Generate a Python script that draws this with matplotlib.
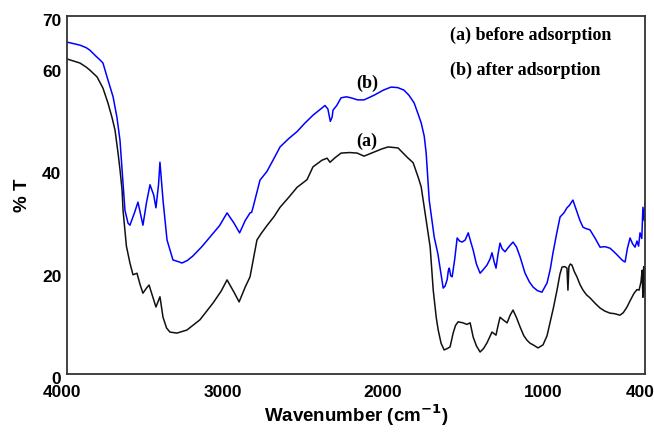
import matplotlib
matplotlib.use("Agg")
import matplotlib.pyplot as plt
import matplotlib.transforms as mtransforms

# (b) after adsorption - blue
wn_b = [4000, 3960, 3919, 3880, 3857, 3838, 3815, 3794, 3776, 3745, 3713, 3689, 3670, 3657,
        3639, 3620, 3608, 3580, 3558, 3540, 3527, 3505, 3483, 3460, 3446, 3430, 3421, 3402,
        3377, 3340, 3300, 3284, 3250, 3215, 3160, 3109, 3050, 3003, 2960, 2925, 2890, 2860,
        2850, 2841, 2798, 2755, 2710, 2673, 2620, 2567, 2520, 2468, 2420, 2393, 2375, 2360,
        2349, 2343, 2320, 2293, 2260, 2231, 2190, 2150, 2088, 2030, 1982, 1940, 1901, 1870,
        1838, 1815, 1794, 1775, 1763, 1744, 1713, 1690, 1670, 1657, 1645, 1632, 1625, 1619,
        1610, 1601, 1585, 1570, 1555, 1539, 1520, 1501, 1485, 1470, 1450, 1427, 1405, 1384,
        1365, 1353, 1340, 1328, 1315, 1303, 1290, 1272, 1245, 1222, 1200, 1178, 1160, 1147,
        1120, 1097, 1070, 1042, 1010, 990, 973, 950, 929, 905, 886, 870, 860, 849, 836, 824,
        805, 786, 765, 743, 710, 680, 650, 618, 590, 556, 540, 524, 510, 493, 478, 462, 450,
        440, 431, 420, 413, 405, 400]
tb = [64.9, 64.6, 64.3, 63.8, 63.3, 62.7, 62.0, 61.4, 60.8, 57.5, 54.2, 50.2, 45.7, 40.0,
      32.0, 29.5, 29.1, 31.5, 33.6, 31.0, 29.1, 33.5, 37.0, 35.0, 32.5, 37.0, 41.4, 34.0,
      26.2, 22.3, 21.9, 21.7, 22.2, 23.1, 24.9, 26.8, 29.0, 31.5, 29.5, 27.6, 30.0, 31.5,
      31.6, 32.6, 37.9, 39.6, 42.2, 44.4, 46.0, 47.4, 49.0, 50.6, 51.8, 52.5, 51.8, 49.4,
      50.2, 51.6, 52.5, 54.0, 54.2, 54.0, 53.6, 53.6, 54.5, 55.5, 56.1, 56.0, 55.5, 54.5,
      53.0, 51.0, 49.1, 46.5, 43.2, 34.0, 26.8, 23.5, 19.5, 16.8, 17.2, 18.5, 20.2, 20.7,
      19.2, 19.0, 22.5, 26.6, 26.0, 25.8, 26.2, 27.6, 25.8, 24.2, 21.5, 19.7, 20.5, 21.3,
      22.5, 23.7, 22.0, 20.7, 23.5, 25.6, 24.5, 23.9, 25.0, 25.8, 24.8, 22.9, 21.0, 19.7,
      18.0, 17.0, 16.3, 16.0, 17.8, 20.5, 23.7, 27.5, 30.7, 31.5, 32.5, 33.0, 33.5, 34.0,
      32.8, 31.7, 30.0, 28.7, 28.4, 28.2, 26.5, 24.8, 24.9, 24.6, 23.8, 22.7, 22.2, 21.9,
      24.5, 26.6, 25.5, 24.8, 26.0, 25.0, 27.6, 26.5, 32.6, 30.0, 33.5]

# (a) before adsorption - black
wn_a = [4000, 3960, 3919, 3880, 3857, 3813, 3776, 3745, 3720, 3701, 3682, 3670, 3657, 3651,
        3630, 3608, 3589, 3564, 3545, 3527, 3505, 3489, 3460, 3446, 3421, 3402, 3380, 3359,
        3315, 3253, 3172, 3090, 3040, 3003, 2960, 2928, 2890, 2860, 2845, 2829, 2817, 2790,
        2755, 2710, 2673, 2620, 2567, 2505, 2468, 2412, 2380, 2362, 2330, 2293, 2240, 2193,
        2150, 2088, 2040, 2000, 1938, 1882, 1844, 1813, 1794, 1763, 1738, 1719, 1700, 1688,
        1670, 1651, 1630, 1614, 1595, 1580, 1564, 1533, 1510, 1489, 1470, 1450, 1427, 1405,
        1384, 1353, 1328, 1315, 1303, 1280, 1259, 1240, 1222, 1200, 1178, 1155, 1135, 1115,
        1097, 1066, 1035, 1010, 992, 970, 948, 930, 917, 900, 886, 880, 874, 865, 855, 840,
        824, 805, 786, 765, 743, 710, 680, 650, 618, 590, 556, 535, 512, 490, 468, 450, 437,
        425, 418, 413, 408, 404, 400]
ta = [61.6, 61.2, 60.8, 60.0, 59.4, 58.1, 55.9, 53.0, 50.2, 47.7, 43.2, 40.0, 36.0, 32.0,
      25.0, 21.7, 19.4, 19.7, 17.5, 15.8, 16.8, 17.4, 14.5, 13.1, 15.1, 11.1, 9.0, 8.2,
      8.0, 8.6, 10.6, 13.9, 16.2, 18.4, 16.0, 14.1, 17.0, 19.0, 21.5, 24.2, 26.2, 27.5,
      29.0, 30.8, 32.6, 34.5, 36.5, 38.0, 40.5, 41.8, 42.2, 41.4, 42.3, 43.2, 43.3, 43.2,
      42.6, 43.4, 44.0, 44.4, 44.2, 42.4, 41.3, 38.5, 36.6, 30.1, 24.8, 16.4, 11.0, 8.6,
      6.0, 4.7, 5.0, 5.3, 8.0, 9.5, 10.2, 10.0, 9.7, 10.0, 7.2, 5.5, 4.3, 5.0,
      6.1, 8.2, 7.6, 9.5, 11.1, 10.5, 10.0, 11.5, 12.5, 11.0, 9.2, 7.5, 6.6, 6.0,
      5.7, 5.1, 5.7, 7.5, 10.0, 13.0, 16.4, 19.5, 20.9, 21.0, 20.7, 16.4, 21.0, 21.5, 21.3, 20.0,
      19.0, 17.5, 16.4, 15.5, 14.9, 13.8, 12.9, 12.3, 11.9, 11.8, 11.5, 12.0, 13.1, 14.5,
      15.8, 16.5, 16.4, 18.0, 20.3, 15.0, 21.0, 16.0, 17.5]

xticks = [4000, 3000, 2000, 1000, 400]
yticks = [0, 20, 40, 60, 70]

fig = plt.figure(figsize=(6.54, 4.33), dpi=100)
ax = fig.add_axes([67/654, 1-374/433, (645-67)/654, (374-16)/433])
ax.plot(wn_b, tb, color="#0000ff", lw=1.1)
ax.plot(wn_a, ta, color="#111111", lw=1.1)
ax.set_xlim(4000, 400)
ax.set_ylim(0, 70)
ax.set_xticks(xticks)
ax.set_yticks(yticks)
ax.tick_params(axis="x", length=0, pad=8)
ax.tick_params(axis="y", length=0, pad=4)
xshift = mtransforms.ScaledTranslation(-5/100, 0, fig.dpi_scale_trans)
yshift = mtransforms.ScaledTranslation(0, -4/100, fig.dpi_scale_trans)
for lab in ax.get_xticklabels():
    lab.set_transform(lab.get_transform() + xshift)
for lab in ax.get_yticklabels():
    lab.set_transform(lab.get_transform() + yshift)
for lab in ax.get_xticklabels() + ax.get_yticklabels():
    lab.set_fontfamily("Liberation Sans")
    lab.set_fontweight("bold")
    lab.set_fontsize(12.5)
for s in ax.spines.values():
    s.set_color("#333333")
    s.set_linewidth(1.3)

ax.set_xlabel("Wavenumber (cm$^{\\mathbf{-1}}$)", fontfamily="Liberation Sans",
              fontweight="bold", fontsize=13.5, labelpad=1.5)
ax.set_ylabel("% T", fontfamily="Liberation Sans", fontweight="bold", fontsize=13.5, labelpad=8)

serif = dict(fontfamily="Liberation Serif", fontweight="bold", fontsize=13)
ax.text(0.663, 0.947, "(a) before adsorption", transform=ax.transAxes, va="center", ha="left", **serif)
ax.text(0.663, 0.849, "(b) after adsorption", transform=ax.transAxes, va="center", ha="left", **serif)
ax.text(2132, 56.9, "(b)", ha="center", va="center", **serif)
ax.text(2132, 45.5, "(a)", ha="center", va="center", **serif)

fig.savefig("out.png", dpi=100)
